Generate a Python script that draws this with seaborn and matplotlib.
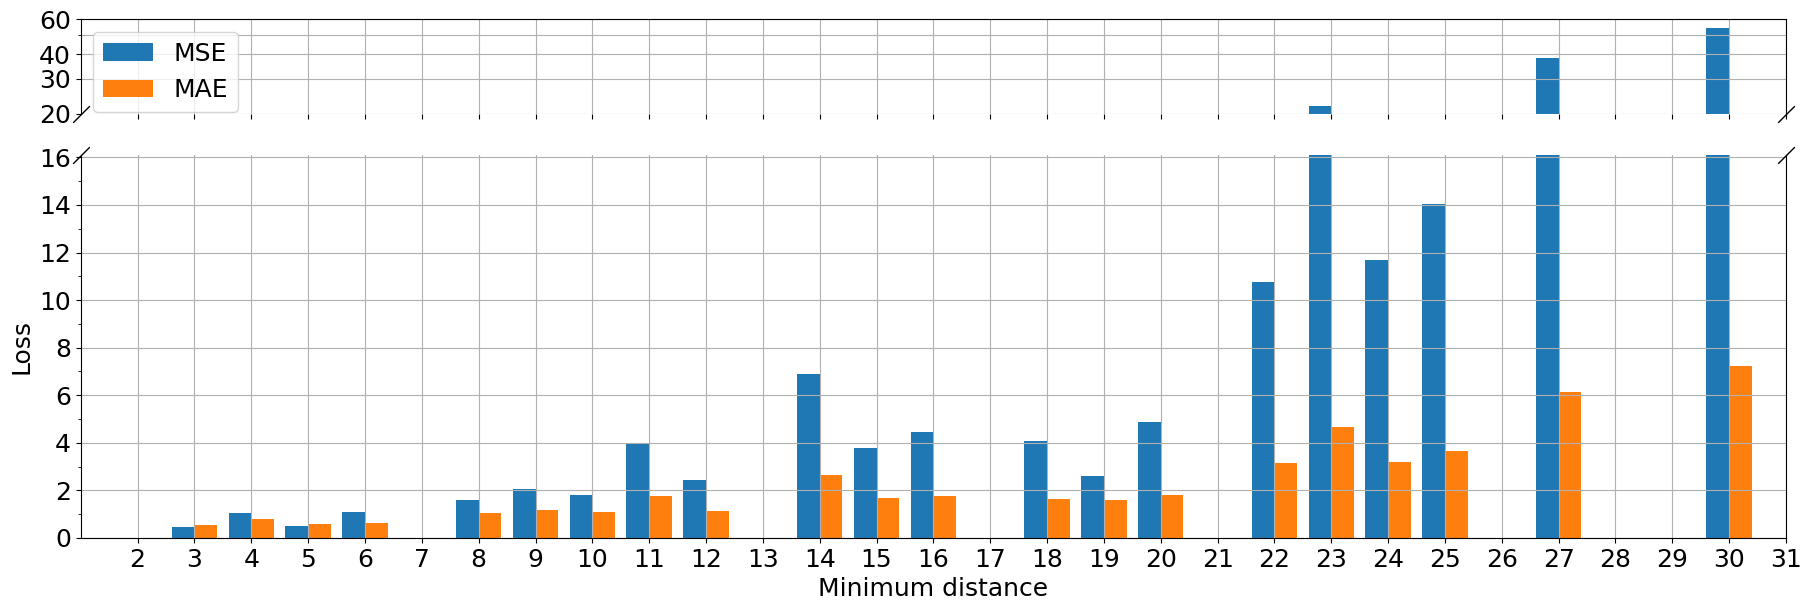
import numpy as np
import pandas as pd
import matplotlib
matplotlib.use("Agg")
import matplotlib.pyplot as plt
import seaborn as sns
from matplotlib.ticker import AutoMinorLocator, FixedLocator, NullFormatter

# values
distances = [3, 4, 5, 6, 8, 9, 10, 11, 12, 14, 15, 16, 18, 19, 20, 22, 23, 24, 25, 27, 30]
mse = [0.46, 1.05, 0.50, 1.09, 1.59, 2.06, 1.80, 3.94, 2.43, 6.88, 3.78,
       4.45, 4.07, 2.60, 4.87, 10.76, 21.9, 11.68, 14.03, 38.2, 54.2]
mae = [0.55, 0.80, 0.59, 0.63, 1.05, 1.17, 1.09, 1.76, 1.13, 2.64, 1.68,
       1.76, 1.64, 1.60, 1.81, 3.15, 4.66, 3.19, 3.66, 6.13, 7.22]
metrics = ["MSE", "MAE"]
x_ticks = list(range(2, 32))
top_ticks = [20, 30, 40, 60]
top_minor = [50]

df = pd.DataFrame({"distance": distances, "MSE": mse, "MAE": mae})
long = df.melt(id_vars="distance", value_vars=metrics, var_name="metric", value_name="loss")

plt.rcParams["font.size"] = 18
palette = sns.color_palette("tab10", 2)

fig, (ax_top, ax_bot) = plt.subplots(
    2, 1, sharex=True, figsize=(18.11, 6.11), dpi=100,
    gridspec_kw={"height_ratios": [94.4, 383]},
)
fig.subplots_adjust(left=0.0446, right=0.9862, bottom=0.1195, top=0.9684, hspace=0.173)

for ax in (ax_top, ax_bot):
    sns.barplot(data=long, x="distance", y="loss", hue="metric", hue_order=metrics,
                native_scale=True, palette=palette, saturation=1, errorbar=None,
                linewidth=0, legend=(ax is ax_top), ax=ax)
    ax.set_xlabel("")
    ax.set_ylabel("")

# top panel: log scale for the large values
ax_top.set_yscale("log")
ax_top.set_ylim(20, 60)
ax_top.yaxis.set_major_locator(FixedLocator(top_ticks))
ax_top.set_yticklabels([str(t) for t in top_ticks])
ax_top.yaxis.set_minor_locator(FixedLocator(top_minor))
ax_top.yaxis.set_minor_formatter(NullFormatter())
ax_top.grid(True, which="both")
ax_top.spines["bottom"].set_visible(False)
ax_top.tick_params(axis="x", labelbottom=False)
sns.move_legend(ax_top, "upper left", title=None, fontsize=18)

# bottom panel
ax_bot.set_ylim(0, 16.1)
ax_bot.set_yticks(np.arange(0, 17, 2))
ax_bot.yaxis.set_minor_locator(AutoMinorLocator(2))
ax_bot.grid(True, which="major")
ax_bot.spines["top"].set_visible(False)
ax_bot.set_xticks(x_ticks)
ax_bot.set_xticklabels([str(t) for t in x_ticks])
ax_bot.set_xlim(1, 31)
ax_bot.set_xlabel("Minimum distance")
ax_bot.set_ylabel("Loss")

# break marks
kw = dict(marker=[(-1, -1), (1, 1)], markersize=12, linestyle="none",
          color="k", mec="k", mew=1, clip_on=False)
ax_top.plot([0, 1], [0, 0], transform=ax_top.transAxes, **kw)
ax_bot.plot([0, 1], [1, 1], transform=ax_bot.transAxes, **kw)

fig.savefig("out.png", dpi=100)
plt.close(fig)
